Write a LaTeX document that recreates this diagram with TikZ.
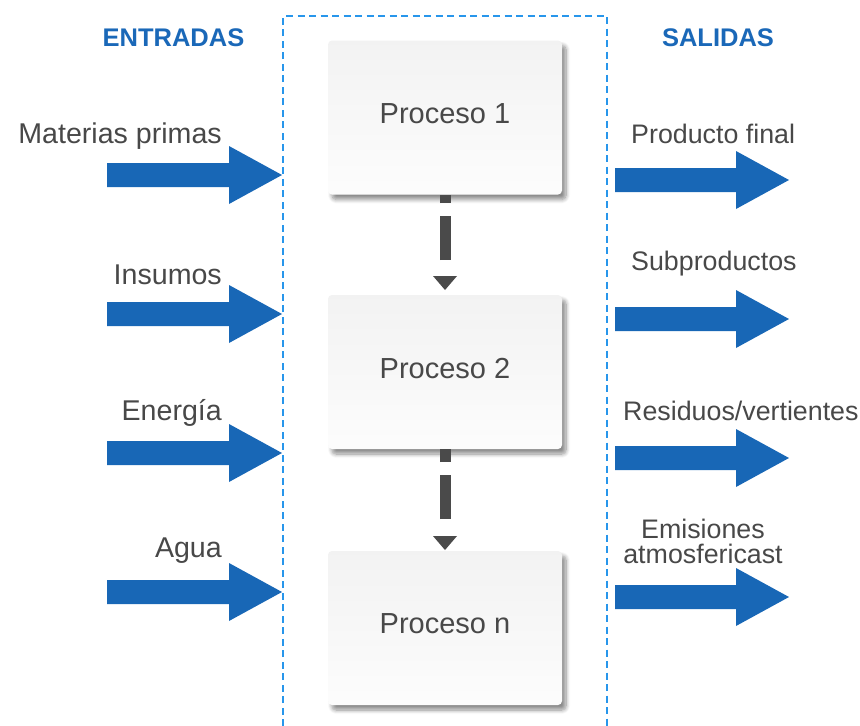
\documentclass[tikz,border=0pt]{standalone}
\usepackage{fontspec}
\setmainfont{Liberation Sans}
\usetikzlibrary{calc,shadows.blur}
\definecolor{arrowblue}{RGB}{24,103,182}
\definecolor{headblue}{RGB}{26,104,184}
\definecolor{borderblue}{RGB}{40,150,235}
\definecolor{txtgray}{RGB}{72,72,72}
\definecolor{conngray}{RGB}{74,74,74}
\newcommand\bluearrow[3]{%
  \fill[arrowblue] (#1,#3-12) -- (#2-53,#3-12) -- (#2-53,#3-29) -- (#2,#3)
     -- (#2-53,#3+29) -- (#2-53,#3+12) -- (#1,#3+12) -- cycle;}
\begin{document}
\begin{tikzpicture}[x=1pt,y=-1pt,
  procbox/.style={rounded corners=4pt, minimum width=234pt, minimum height=154pt,
     inner sep=0pt, text depth=8pt, top color=black!5, bottom color=black!1,
     draw=none, font=\fontsize{29}{32}\selectfont, text=txtgray,
     blur shadow={shadow xshift=4pt, shadow yshift=-5pt, shadow blur radius=4pt,
        shadow blur steps=8, shadow opacity=45}},
  lbl/.style={inner sep=0pt, font=\fontsize{28.6}{25}\selectfont, text=txtgray},
  rlbl/.style={inner sep=0pt, font=\fontsize{26.8}{25}\selectfont, text=txtgray},
  head/.style={inner sep=0pt, font=\fontsize{25.5}{28}\selectfont\bfseries, text=headblue},
  connline/.style={draw=conngray, line width=11pt, dash pattern=on 44pt off 13pt},
  conntip/.style={fill=conngray}]
\useasboundingbox (0,0) rectangle (860,726);
% dashed system border
\draw[borderblue, line width=2pt, dash pattern=on 7pt off 4.5pt]
  (283,726) -- (283,16) -- (607,16) -- (607,726);
% headers
\node[head, anchor=base] (hin) at (173.5,46) {ENTRADAS};
\node[head, anchor=base] (hout) at (718,46) {SALIDAS};
% process boxes
\node[procbox] (b1) at (445,117.5) {Proceso 1};
\node[procbox] (b2) at (445,372) {Proceso 2};
\node[procbox] (bn) at (445,628) {Proceso n};
% connectors
\coordinate (t1) at (445,290);
\draw[connline] (445,260) -- (b1.south);
\fill[conntip] (t1) -- ++(-12,-14) -- ++(24,0) -- cycle;
\coordinate (t2) at (445,550);
\draw[connline] (445,519) -- (b2.south);
\fill[conntip] (t2) -- ++(-12,-14) -- ++(24,0) -- cycle;
% input arrows
\bluearrow{107}{282}{175}
\bluearrow{107}{282}{314}
\bluearrow{107}{282}{453}
\bluearrow{107}{282}{592}
% output arrows
\bluearrow{615}{789}{180}
\bluearrow{615}{789}{319}
\bluearrow{615}{789}{458}
\bluearrow{615}{789}{597}
% input labels
\node[lbl, anchor=base east] (l1) at (222,143) {Materias primas};
\node[lbl, anchor=base east] (l2) at (222,284) {Insumos};
\node[lbl, anchor=base east] (l3) at (222,420) {Energía};
\node[lbl, anchor=base east] (l4) at (222,557) {Agua};
% output labels
\node[rlbl, anchor=base west] (r1) at (631,143) {Producto final};
\node[rlbl, anchor=base west] (r2) at (631,270) {Subproductos};
\node[rlbl, anchor=base west] (r3) at (623,420) {Residuos/vertientes};
\node[rlbl, anchor=base, align=center] (r4) at (703,563) {Emisiones\\atmosfericast};
\end{tikzpicture}
\end{document}
